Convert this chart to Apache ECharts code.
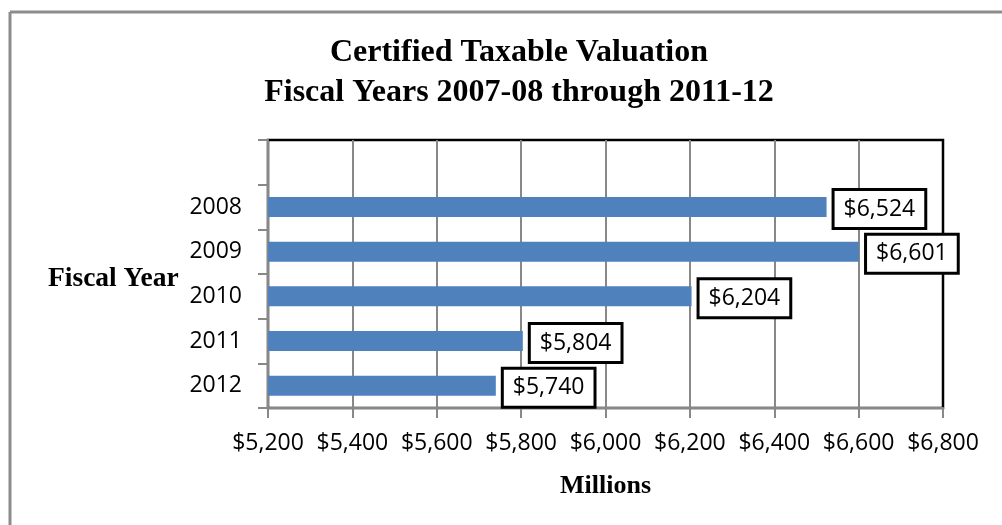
<!DOCTYPE html>
<html>
<head>
<meta charset="utf-8">
<script src="https://cdn.jsdelivr.net/npm/echarts@6/dist/echarts.min.js"></script>
<style>
  html, body { margin: 0; padding: 0; background: #fff; }
  #chart { width: 1002px; height: 525px; }
</style>
</head>
<body>
<div id="chart"></div>
<script>
// ---- data ----
var years = ['2008', '2009', '2010', '2011', '2012'];
var valuations = [6524, 6601, 6204, 5804, 5740];
var xMin = 5200;
var xMax = 6800;
var xStep = 200;
var titleLines = ['Certified Taxable Valuation', 'Fiscal Years 2007-08 through 2011-12'];
var yName = 'Fiscal Year';
var xName = 'Millions';

function money(v) {
  return '$' + Number(v).toLocaleString('en-US');
}

// leading empty slot (top of chart), as in the reference
var cats = [''].concat(years);
var vals = [null].concat(valuations);

var labelFont = 'Open Sans';
var serif = 'Liberation Serif';
var gridGray = '#888888';

var chart = echarts.init(document.getElementById('chart'), null, { renderer: 'canvas' });
chart.setOption({
  backgroundColor: '#ffffff',
  animation: false,
  title: {
    text: titleLines.join('\n'),
    left: 514,
    textAlign: 'center',
    top: 28,
    textStyle: {
      fontFamily: serif,
      fontWeight: 'bold',
      fontSize: 32,
      lineHeight: 40,
      color: '#000'
    }
  },
  graphic: [
    { type: 'line', shape: { x1: 10, y1: 12, x2: 1002, y2: 12 }, style: { stroke: '#8c8c8c', lineWidth: 3 } },
    { type: 'line', shape: { x1: 10, y1: 12, x2: 10, y2: 525 }, style: { stroke: '#8c8c8c', lineWidth: 3 } },
    {
      type: 'text', left: 48, top: 265,
      style: { text: yName, fontFamily: serif, fontWeight: 'bold', fontSize: 27.5, fill: '#000' }
    }
  ],
  grid: {
    left: 268, right: 59, top: 140, bottom: 117,
    show: true, borderColor: '#000', borderWidth: 2.5, backgroundColor: 'transparent'
  },
  xAxis: {
    type: 'value',
    min: xMin, max: xMax, interval: xStep,
    name: xName,
    nameLocation: 'middle',
    nameGap: 65,
    nameTextStyle: { fontFamily: serif, fontWeight: 'bold', fontSize: 26, color: '#000' },
    axisLine: { show: true, lineStyle: { color: gridGray, width: 2 } },
    axisTick: { show: true, length: 10, lineStyle: { color: gridGray, width: 2 } },
    splitLine: { show: true, showMaxLine: false, lineStyle: { color: gridGray, width: 2 } },
    axisLabel: {
      margin: 24,
      fontFamily: labelFont, fontSize: 23, color: '#000',
      formatter: function (v) { return money(v); }
    }
  },
  yAxis: {
    type: 'category',
    inverse: true,
    data: cats,
    boundaryGap: true,
    axisLine: { show: true, lineStyle: { color: gridGray, width: 2 } },
    axisTick: { show: true, length: 10, lineStyle: { color: gridGray, width: 2 } },
    splitLine: { show: false },
    axisLabel: { margin: 26, fontFamily: labelFont, fontSize: 23, color: '#000' }
  },
  series: [{
    type: 'bar',
    data: vals,
    barWidth: 20,
    itemStyle: { color: '#4f81bd' },
    label: {
      show: true,
      position: 'right',
      distance: 8,
      offset: [0, 2],
      formatter: function (p) { return money(p.value); },
      fontFamily: labelFont, fontSize: 23, color: '#000',
      backgroundColor: '#fff',
      borderColor: '#000',
      borderWidth: 3,
      padding: [7, 9, 6, 9]
    }
  }]
});
</script>
</body>
</html>
